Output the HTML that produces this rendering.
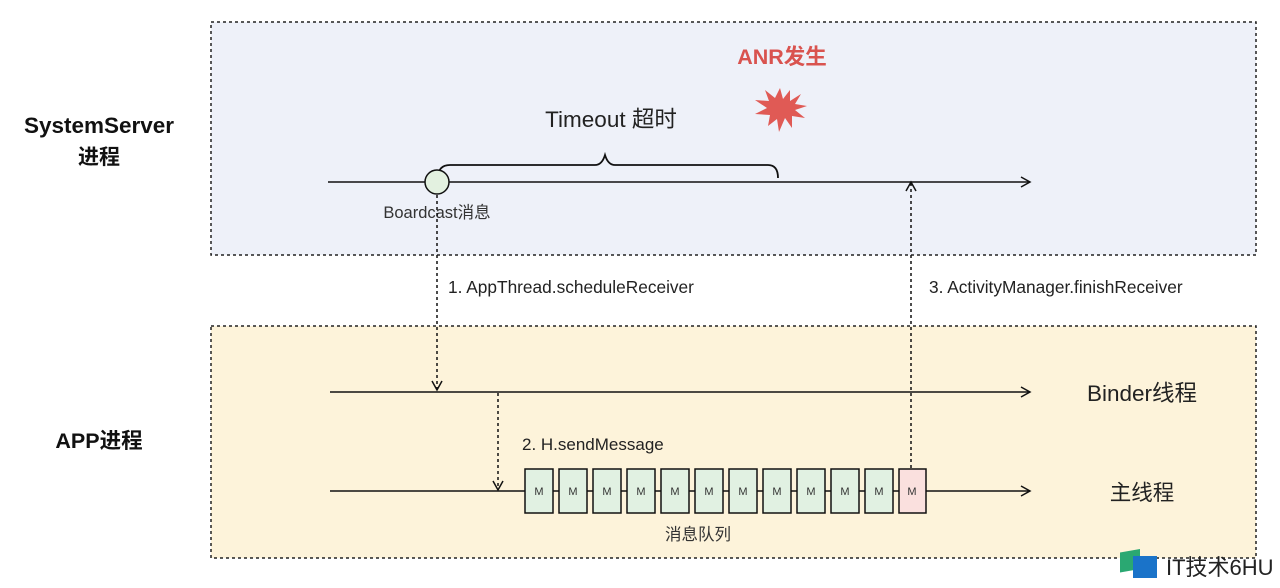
<!DOCTYPE html>
<html><head><meta charset="utf-8"><style>
body{margin:0;width:1280px;height:583px;background:#fff;overflow:hidden}
svg text{font-family:"Liberation Sans","Noto Sans CJK SC",sans-serif}
</style></head><body>
<svg width="1280" height="583" xmlns="http://www.w3.org/2000/svg">
<defs>
<marker id="a" markerWidth="12" markerHeight="12" refX="10" refY="6" orient="auto" markerUnits="userSpaceOnUse"><path d="M1,1 L10,6 L1,11" fill="none" stroke="#111" stroke-width="1.5"/></marker>
</defs>
<rect x="211" y="22" width="1045" height="233" fill="#eef1f9" stroke="#222" stroke-width="1.5" stroke-dasharray="3,3"/>
<rect x="211" y="326" width="1045" height="232" fill="#fdf3da" stroke="#222" stroke-width="1.5" stroke-dasharray="3,3"/>
<text x="99" y="133" font-size="22.5" font-weight="bold" text-anchor="middle" fill="#111">SystemServer</text>
<text x="99" y="164" font-size="21" font-weight="bold" text-anchor="middle" fill="#111">进程</text>
<text x="99" y="448" font-size="21.5" font-weight="bold" text-anchor="middle" fill="#111">APP进程</text>
<text x="782" y="64" font-size="21.5" font-weight="bold" text-anchor="middle" fill="#d9534f">ANR发生</text>
<polygon fill="#e05a55" points="780,88 783,99 790,90 790,101 801,94 795,104 807,106 795,110 805,118 792,116 792,128 785,118 779,132 777,119 768,126 770,115 755,114 767,108 755,100 769,101 765,90 775,98" />
<text x="611" y="127" font-size="22.5" text-anchor="middle" fill="#222">Timeout 超时</text>
<path d="M438,178 Q438,165 450,165 L595,165 Q602,165 605,155 Q608,165 615,165 L768,165 Q778,165 778,178" fill="none" stroke="#111" stroke-width="1.8"/>
<line x1="328" y1="182" x2="1030" y2="182" stroke="#111" stroke-width="1.5" marker-end="url(#a)"/>
<circle cx="437" cy="182" r="12" fill="#e3f1e0" stroke="#111" stroke-width="1.5"/>
<text x="437" y="218" font-size="16.5" text-anchor="middle" fill="#333">Boardcast消息</text>
<line x1="437" y1="195" x2="437" y2="390" stroke="#111" stroke-width="1.5" stroke-dasharray="3,3" marker-end="url(#a)"/>
<text x="448" y="293" font-size="17.3" fill="#222">1. AppThread.scheduleReceiver</text>
<line x1="911" y1="468" x2="911" y2="182" stroke="#111" stroke-width="1.5" stroke-dasharray="3,3" marker-end="url(#a)"/>
<text x="929" y="293" font-size="17.3" fill="#222">3. ActivityManager.finishReceiver</text>
<line x1="330" y1="392" x2="1030" y2="392" stroke="#111" stroke-width="1.5" marker-end="url(#a)"/>
<text x="1142" y="401" font-size="22.5" text-anchor="middle" fill="#222">Binder线程</text>
<line x1="498" y1="393" x2="498" y2="490" stroke="#111" stroke-width="1.5" stroke-dasharray="3,3" marker-end="url(#a)"/>
<text x="522" y="450" font-size="17" fill="#222">2. H.sendMessage</text>
<line x1="330" y1="491" x2="1030" y2="491" stroke="#111" stroke-width="1.5" marker-end="url(#a)"/>
<text x="1142" y="500" font-size="21.5" text-anchor="middle" fill="#222">主线程</text>
<g stroke="#111" stroke-width="1.5">
<rect x="525" y="469" width="28" height="44" fill="#e1f1e2"/>
<rect x="559" y="469" width="28" height="44" fill="#e1f1e2"/>
<rect x="593" y="469" width="28" height="44" fill="#e1f1e2"/>
<rect x="627" y="469" width="28" height="44" fill="#e1f1e2"/>
<rect x="661" y="469" width="28" height="44" fill="#e1f1e2"/>
<rect x="695" y="469" width="28" height="44" fill="#e1f1e2"/>
<rect x="729" y="469" width="28" height="44" fill="#e1f1e2"/>
<rect x="763" y="469" width="28" height="44" fill="#e1f1e2"/>
<rect x="797" y="469" width="28" height="44" fill="#e1f1e2"/>
<rect x="831" y="469" width="28" height="44" fill="#e1f1e2"/>
<rect x="865" y="469" width="28" height="44" fill="#e1f1e2"/>
<rect x="899" y="469" width="27" height="44" fill="#fae0de"/>
</g>
<g font-size="11" fill="#333" text-anchor="middle">
<text x="539" y="495">M</text><text x="573" y="495">M</text><text x="607" y="495">M</text><text x="641" y="495">M</text><text x="675" y="495">M</text><text x="709" y="495">M</text><text x="743" y="495">M</text><text x="777" y="495">M</text><text x="811" y="495">M</text><text x="845" y="495">M</text><text x="879" y="495">M</text><text x="912" y="495">M</text>
</g>
<text x="698" y="540" font-size="16.5" text-anchor="middle" fill="#333">消息队列</text>
<rect x="1120" y="550" width="20" height="20" fill="#2aa872" transform="skewY(-10) translate(0,200)"/>
<rect x="1133" y="556" width="24" height="22" fill="#1a73c9"/>
<text x="1166" y="575" font-size="22" fill="#222">IT技术6HU</text>
</svg>
</body></html>
